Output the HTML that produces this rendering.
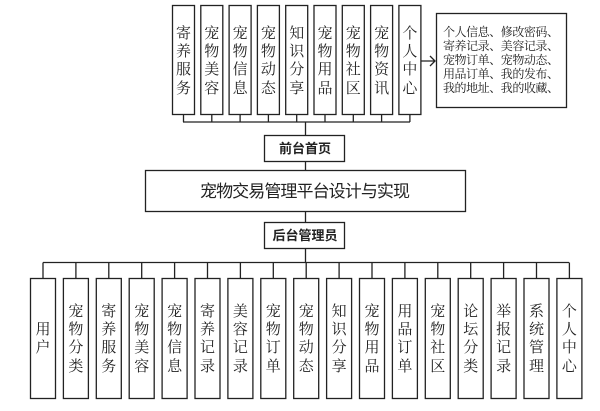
<!DOCTYPE html>
<html><head><meta charset="utf-8"><style>
html,body{margin:0;padding:0;background:#fff;}
svg{display:block;}
text{font-family:"Liberation Serif","Noto Serif CJK SC","Noto Sans CJK SC",serif;fill:#222;}
.s{font-family:"Liberation Sans","Noto Sans CJK SC",sans-serif;}
</style></head><body>
<svg width="600" height="411" viewBox="0 0 600 411" xmlns="http://www.w3.org/2000/svg">
<g stroke="#222" stroke-width="1.3" fill="none">
<!-- top boxes -->
<rect x="172.5" y="5.5" width="22" height="109"/>
<rect x="200.8" y="5.5" width="22" height="109"/>
<rect x="229.1" y="5.5" width="22" height="109"/>
<rect x="257.4" y="5.5" width="22" height="109"/>
<rect x="285.7" y="5.5" width="22" height="109"/>
<rect x="314" y="5.5" width="22" height="109"/>
<rect x="342.3" y="5.5" width="22" height="109"/>
<rect x="370.6" y="5.5" width="22" height="109"/>
<rect x="398.9" y="5.5" width="22" height="109"/>
<rect x="436.5" y="13.5" width="130" height="94"/>
<path d="M183.5 114.5V122M211.8 114.5V122M240.1 114.5V122M268.4 114.5V122M296.7 114.5V122M325 114.5V122M353.3 114.5V122M381.6 114.5V122M409.9 114.5V122M183 122H410M305.5 122V135"/>
<path d="M421 61H435M430 56L435 61L430 66"/>
<rect x="264.5" y="135.5" width="80" height="26"/>
<path d="M305.5 161.5V170"/>
<rect x="145.5" y="170.5" width="320" height="41"/>
<path d="M305.5 211.5V222"/>
<rect x="264.5" y="222.5" width="80" height="26"/>
<path d="M305.5 248.5V262M43 262.5H569"/>
</g>
<g stroke="#222" stroke-width="1.3" fill="none" id="bot">
<path d="M43 262.5V278M75.9 262.5V278M108.8 262.5V278M141.7 262.5V278M174.6 262.5V278M207.5 262.5V278M240.4 262.5V278M273.3 262.5V278M306.2 262.5V278M339.1 262.5V278M372 262.5V278M404.9 262.5V278M437.8 262.5V278M470.7 262.5V278M503.6 262.5V278M536.5 262.5V278M569.4 262.5V278"/>
<rect x="30.5" y="278.5" width="25" height="120"/>
<rect x="63.4" y="278.5" width="25" height="120"/>
<rect x="96.3" y="278.5" width="25" height="120"/>
<rect x="129.2" y="278.5" width="25" height="120"/>
<rect x="162.1" y="278.5" width="25" height="120"/>
<rect x="195" y="278.5" width="25" height="120"/>
<rect x="227.9" y="278.5" width="25" height="120"/>
<rect x="260.8" y="278.5" width="25" height="120"/>
<rect x="293.7" y="278.5" width="25" height="120"/>
<rect x="326.6" y="278.5" width="25" height="120"/>
<rect x="359.5" y="278.5" width="25" height="120"/>
<rect x="392.4" y="278.5" width="25" height="120"/>
<rect x="425.3" y="278.5" width="25" height="120"/>
<rect x="458.2" y="278.5" width="25" height="120"/>
<rect x="491.1" y="278.5" width="25" height="120"/>
<rect x="524" y="278.5" width="25" height="120"/>
<rect x="556.9" y="278.5" width="25" height="120"/>
</g>
<!-- top texts -->
<g font-size="15" text-anchor="middle">
<text x="183.5" y="38">寄</text><text x="183.5" y="56">养</text><text x="183.5" y="74">服</text><text x="183.5" y="93">务</text>
<text x="211.8" y="38">宠</text><text x="211.8" y="56">物</text><text x="211.8" y="74">美</text><text x="211.8" y="93">容</text>
<text x="240.1" y="38">宠</text><text x="240.1" y="56">物</text><text x="240.1" y="74">信</text><text x="240.1" y="93">息</text>
<text x="268.4" y="38">宠</text><text x="268.4" y="56">物</text><text x="268.4" y="74">动</text><text x="268.4" y="93">态</text>
<text x="296.7" y="38">知</text><text x="296.7" y="56">识</text><text x="296.7" y="74">分</text><text x="296.7" y="93">享</text>
<text x="325" y="38">宠</text><text x="325" y="56">物</text><text x="325" y="74">用</text><text x="325" y="93">品</text>
<text x="353.3" y="38">宠</text><text x="353.3" y="56">物</text><text x="353.3" y="74">社</text><text x="353.3" y="93">区</text>
<text x="381.6" y="38">宠</text><text x="381.6" y="56">物</text><text x="381.6" y="74">资</text><text x="381.6" y="93">讯</text>
<text x="409.9" y="38">个</text><text x="409.9" y="56">人</text><text x="409.9" y="74">中</text><text x="409.9" y="93">心</text>
</g>
<g font-size="12">
<text x="443" y="36" textLength="116">个人信息、修改密码、</text>
<text x="443" y="50" textLength="116">寄养记录、美容记录、</text>
<text x="443" y="64" textLength="116">宠物订单、宠物动态、</text>
<text x="443" y="78" textLength="116">用品订单、我的发布、</text>
<text x="443" y="92" textLength="116">我的地址、我的收藏、</text>
</g>
<text class="s" x="305" y="153" font-size="13" font-weight="bold" text-anchor="middle">前台首页</text>
<text class="s" x="305" y="197" font-size="17" text-anchor="middle" textLength="210">宠物交易管理平台设计与实现</text>
<text class="s" x="305" y="240" font-size="13" font-weight="bold" text-anchor="middle">后台管理员</text>
<!-- bottom texts -->
<g font-size="15" text-anchor="middle">
<text x="43" y="334">用</text><text x="43" y="352">户</text>
<text x="75.9" y="316">宠</text><text x="75.9" y="334">物</text><text x="75.9" y="352">分</text><text x="75.9" y="371">类</text>
<text x="108.8" y="316">寄</text><text x="108.8" y="334">养</text><text x="108.8" y="352">服</text><text x="108.8" y="371">务</text>
<text x="141.7" y="316">宠</text><text x="141.7" y="334">物</text><text x="141.7" y="352">美</text><text x="141.7" y="371">容</text>
<text x="174.6" y="316">宠</text><text x="174.6" y="334">物</text><text x="174.6" y="352">信</text><text x="174.6" y="371">息</text>
<text x="207.5" y="316">寄</text><text x="207.5" y="334">养</text><text x="207.5" y="352">记</text><text x="207.5" y="371">录</text>
<text x="240.4" y="316">美</text><text x="240.4" y="334">容</text><text x="240.4" y="352">记</text><text x="240.4" y="371">录</text>
<text x="273.3" y="316">宠</text><text x="273.3" y="334">物</text><text x="273.3" y="352">订</text><text x="273.3" y="371">单</text>
<text x="306.2" y="316">宠</text><text x="306.2" y="334">物</text><text x="306.2" y="352">动</text><text x="306.2" y="371">态</text>
<text x="339.1" y="316">知</text><text x="339.1" y="334">识</text><text x="339.1" y="352">分</text><text x="339.1" y="371">享</text>
<text x="372" y="316">宠</text><text x="372" y="334">物</text><text x="372" y="352">用</text><text x="372" y="371">品</text>
<text x="404.9" y="316">用</text><text x="404.9" y="334">品</text><text x="404.9" y="352">订</text><text x="404.9" y="371">单</text>
<text x="437.8" y="316">宠</text><text x="437.8" y="334">物</text><text x="437.8" y="352">社</text><text x="437.8" y="371">区</text>
<text x="470.7" y="316">论</text><text x="470.7" y="334">坛</text><text x="470.7" y="352">分</text><text x="470.7" y="371">类</text>
<text x="503.6" y="316">举</text><text x="503.6" y="334">报</text><text x="503.6" y="352">记</text><text x="503.6" y="371">录</text>
<text x="536.5" y="316">系</text><text x="536.5" y="334">统</text><text x="536.5" y="352">管</text><text x="536.5" y="371">理</text>
<text x="569.4" y="316">个</text><text x="569.4" y="334">人</text><text x="569.4" y="352">中</text><text x="569.4" y="371">心</text>
</g>
</svg>
</body></html>
